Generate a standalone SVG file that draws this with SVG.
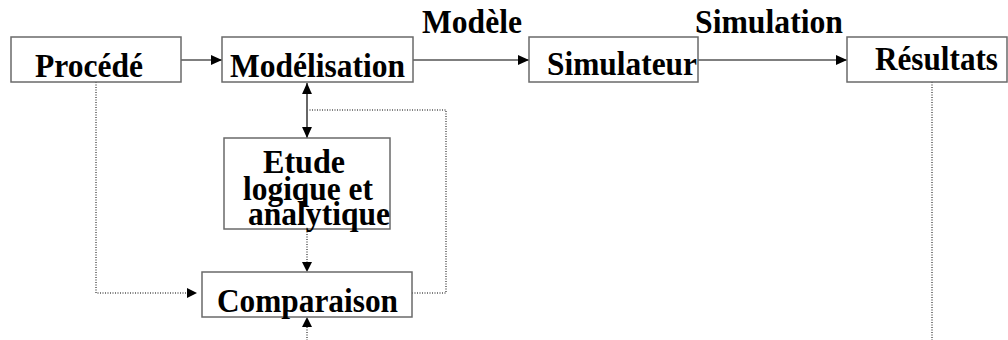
<svg xmlns="http://www.w3.org/2000/svg" width="1008" height="340" viewBox="0 0 1008 340">
<style>
.box{fill:#fff;stroke:#6a6a6a;stroke-width:1.5}
.t{font-family:"Liberation Serif","Times New Roman",serif;font-weight:bold;font-size:34px;fill:#000}
.solid{stroke:#000;stroke-width:1.2;fill:none}
.dot{stroke:#000;stroke-width:1;stroke-dasharray:1 1.5;fill:none}
</style>
<defs>
<marker id="ah" viewBox="0 0 10 10" refX="10" refY="5" markerWidth="11" markerHeight="11" markerUnits="userSpaceOnUse" orient="auto-start-reverse">
<path d="M0,0.5 L10,5 L0,9.5 Z" fill="#000"/>
</marker>
</defs>
<rect width="1008" height="340" fill="#fff"/>
<g id="connectors">
<line class="solid" x1="181" y1="60" x2="222" y2="60" marker-end="url(#ah)"/>
<line class="solid" x1="413" y1="60" x2="529" y2="60" marker-end="url(#ah)"/>
<line class="solid" x1="698" y1="60" x2="847" y2="60" marker-end="url(#ah)"/>
<line class="solid" x1="307" y1="83" x2="307" y2="138" marker-start="url(#ah)" marker-end="url(#ah)"/>
<polyline class="dot" points="96,82 96,293 187,293"/>
<path d="M187,288 L197,293 L187,298 Z" fill="#000"/>
<line class="dot" x1="307" y1="229" x2="307" y2="262"/>
<path d="M302,262 L307,272 L312,262 Z" fill="#000"/>
<line class="dot" x1="307" y1="327" x2="307" y2="340"/>
<path d="M302,327 L307,317 L312,327 Z" fill="#000"/>
<polyline class="dot" points="392,293 446,293 446,110 308,110"/>
<line class="dot" x1="932" y1="82" x2="932" y2="340"/>
</g>
<g id="procede">
<rect class="box" x="11" y="37" width="170" height="45"/>
<text class="t" x="35" y="77" textLength="108" lengthAdjust="spacingAndGlyphs">Procédé</text>
</g>
<g id="modelisation">
<rect class="box" x="222" y="37" width="191" height="45"/>
<text class="t" x="230" y="77" textLength="175" lengthAdjust="spacingAndGlyphs">Modélisation</text>
</g>
<g id="label-modele">
<text class="t" x="422" y="33" textLength="100" lengthAdjust="spacingAndGlyphs">Modèle</text>
</g>
<g id="simulateur">
<rect class="box" x="529" y="37" width="169" height="45"/>
<text class="t" x="547" y="75" textLength="150" lengthAdjust="spacingAndGlyphs">Simulateur</text>
</g>
<g id="label-simulation">
<text class="t" x="695" y="33" textLength="148" lengthAdjust="spacingAndGlyphs">Simulation</text>
</g>
<g id="resultats">
<rect class="box" x="847" y="37" width="160" height="45"/>
<text class="t" x="875" y="70" textLength="123" lengthAdjust="spacingAndGlyphs">Résultats</text>
</g>
<g id="etude">
<rect class="box" x="224" y="138" width="166" height="91"/>
<text class="t" x="263" y="173" textLength="82" lengthAdjust="spacingAndGlyphs">Etude</text>
<text class="t" x="243" y="200" textLength="130" lengthAdjust="spacingAndGlyphs">logique et</text>
<text class="t" x="248" y="225" textLength="142" lengthAdjust="spacingAndGlyphs">analytique</text>
</g>
<g id="comparaison">
<rect class="box" x="202" y="272" width="210" height="45"/>
<text class="t" x="217" y="312" textLength="181" lengthAdjust="spacingAndGlyphs">Comparaison</text>
</g>
</svg>
